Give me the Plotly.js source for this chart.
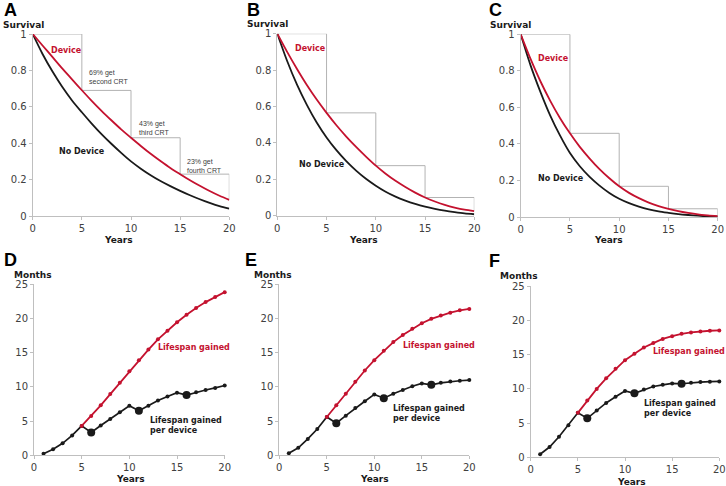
<!DOCTYPE html>
<html>
<head>
<meta charset="utf-8">
<script src="https://cdn.plot.ly/plotly-3.0.1.min.js"></script>
<style>html,body{margin:0;padding:0;background:#fff;}#chart{width:726px;height:486px;}</style>
</head>
<body>
<div id="chart"></div>
<script>
// ---------- DATA ----------
const years = [0,1,2,3,4,5,6,7,8,9,10,11,12,13,14,15,16,17,18,19,20];
const A_device = [1,.937,.874,.811,.751,.691,.633,.578,.526,.476,.43,.385,.342,.302,.264,.23,.197,.166,.137,.111,.089];
const A_none   = [1,.89,.795,.71,.635,.57,.508,.45,.397,.347,.30,.26,.224,.192,.164,.138,.114,.092,.072,.054,.04];
const B_device = [1,.9,.806,.718,.638,.565,.497,.435,.378,.325,.275,.231,.192,.158,.127,.10,.078,.06,.045,.033,.025];
const B_none   = [1,.85,.72,.609,.512,.43,.36,.30,.248,.203,.165,.132,.105,.083,.065,.05,.038,.028,.02,.013,.008];
const C_device = [1,.865,.743,.636,.541,.458,.384,.32,.262,.212,.168,.132,.103,.079,.06,.045,.032,.022,.014,.009,.005];
const C_none   = [1,.83,.685,.555,.445,.35,.278,.22,.172,.132,.10,.076,.057,.042,.031,.023,.016,.011,.007,.004,.002];

const stepYears = [0,5,10,15,20];
const A_steps = [1,0.69,0.43,0.23,0.089];
const B_steps = [1,0.565,0.275,0.10,0.025];
const C_steps = [1,0.458,0.168,0.045,0.005];
const A_stepLabels = ['69% get<br>second CRT','43% get<br>third CRT','23% get<br>fourth CRT'];

const monthYears = [1,2,3,4,5,6,7,8,9,10,11,12,13,14,15,16,17,18,19,20];
const gainedYears = [5,6,7,8,9,10,11,12,13,14,15,16,17,18,19,20];
const bigMarkerYears = [6,11,16];
const D_perDevice = [0.24,0.88,1.75,2.9,4.3,3.35,4.35,5.3,6.3,7.25,6.5,7.25,8.0,8.6,9.15,8.8,9.2,9.55,9.85,10.2];
const D_gained = [4.3,5.75,7.3,8.95,10.6,12.3,13.9,15.45,16.95,18.2,19.45,20.55,21.55,22.4,23.15,23.85];
const E_perDevice = [0.3,1.1,2.4,3.85,5.6,4.7,5.8,6.9,7.9,8.9,8.35,9.0,9.55,10.1,10.5,10.3,10.6,10.8,10.9,11.0];
const E_gained = [5.6,7.3,9.0,10.75,12.4,13.9,15.3,16.55,17.6,18.5,19.3,19.95,20.45,20.85,21.2,21.4];
const F_perDevice = [0.45,1.5,3.0,4.7,6.5,5.7,6.85,7.95,8.85,9.7,9.35,9.9,10.35,10.6,10.8,10.75,10.9,11.0,11.05,11.1];
const F_gained = [6.5,8.3,10.0,11.55,12.95,14.2,15.15,16.05,16.7,17.3,17.7,18.05,18.25,18.4,18.5,18.55];

const survTicks = [0,0.2,0.4,0.6,0.8,1];
const survTickText = ['0','0.2','0.4','0.6','0.8','1'];
const monthTicks = [0,5,10,15,20,25];
const yearTicks = [0,5,10,15,20];

// ---------- STYLE ----------
const RED = '#c4122f';
const BLK = '#1a1a1a';
const GREY = '#b3b3b3';
const AX = '#bfbfbf';
const W = 726, H = 486;
const px = x => x / W;
const py = y => 1 - y / H;

const traces = [];
function surv(n, dev, none, steps) {
  const xa = 'x' + (n === 1 ? '' : n), ya = 'y' + (n === 1 ? '' : n);
  traces.push({x: stepYears, y: steps, xaxis: xa, yaxis: ya, mode: 'lines', line: {color: GREY, width: 1, shape: 'hv'}, cliponaxis: false});
  traces.push({x: years, y: none, xaxis: xa, yaxis: ya, mode: 'lines', line: {color: BLK, width: 1.8, shape: 'spline', smoothing: 0.8}, cliponaxis: false});
  traces.push({x: years, y: dev, xaxis: xa, yaxis: ya, mode: 'lines', line: {color: RED, width: 1.8, shape: 'spline', smoothing: 0.8}, cliponaxis: false});
}
function months(n, per, gained) {
  const xa = 'x' + n, ya = 'y' + n;
  const sizes = monthYears.map(y => bigMarkerYears.includes(y) ? 8 : 4);
  traces.push({x: monthYears, y: per, xaxis: xa, yaxis: ya, mode: 'lines+markers', line: {color: BLK, width: 1.7},
    marker: {color: BLK, size: sizes, opacity: 1, line: {width: 0}}, cliponaxis: false});
  traces.push({x: gainedYears, y: gained, xaxis: xa, yaxis: ya, mode: 'lines+markers', line: {color: RED, width: 1.8},
    marker: {color: RED, size: 4, opacity: 1, line: {width: 0}}, cliponaxis: false});
}
surv(1, A_device, A_none, A_steps);
surv(2, B_device, B_none, B_steps);
surv(3, C_device, C_none, C_steps);
months(4, D_perDevice, D_gained);
months(5, E_perDevice, E_gained);
months(6, F_perDevice, F_gained);

const tickfont = {family: 'DejaVu Sans', size: 10, color: '#404040'};
function xax(l, r, anchor) {
  return {domain: [px(l), px(r)], anchor: anchor, range: [0, 20], tickvals: yearTicks, showline: true, linecolor: AX, linewidth: 1,
    ticks: 'outside', ticklen: 3, tickcolor: AX, showgrid: false, zeroline: false, tickfont: tickfont, fixedrange: true};
}
function yax(top, bot, anchor, surv) {
  const o = {domain: [py(bot), py(top)], anchor: anchor, showline: true, linecolor: AX, linewidth: 1,
    ticks: 'outside', ticklen: 3, tickcolor: AX, showgrid: false, zeroline: false, tickfont: tickfont, fixedrange: true};
  if (surv) { o.range = [0, 1]; o.tickvals = survTicks; o.ticktext = survTickText; }
  else { o.range = [0, 25]; o.tickvals = monthTicks; }
  return o;
}

const ann = [];
function txt(x, y, text, size, color, xanchor, bold, family) {
  ann.push({xref: 'paper', yref: 'paper', x: px(x), y: py(y), text: bold ? '<b>' + text + '</b>' : text, showarrow: false,
    xanchor: xanchor || 'left', yanchor: 'middle', font: {family: family || 'DejaVu Sans', size: size, color: color || '#1a1a1a'}});
}
function dtxt(n, x, y, text, size, color, family, bold) {
  ann.push({xref: 'x' + (n === 1 ? '' : n), yref: 'y' + (n === 1 ? '' : n), x: x, y: y, text: bold === false ? text : '<b>' + text + '</b>', showarrow: false,
    xanchor: 'left', yanchor: 'middle', align: 'left', font: {family: family || 'DejaVu Sans', size: size, color: color}});
}
// panel letters
[['A',2,10],['B',245,10],['C',487,10],['D',2,260],['E',243,260],['F',487,261]].forEach(d => txt(d[1], d[2], d[0], 18, '#000', 'left', true, 'Liberation Sans'));
// axis titles
[[1,25],[245,24],[488,25]].forEach(d => txt(d[0], d[1], 'Survival', 9, '#1a1a1a', 'left', true));
[[12,275],[252,275],[498,275.5]].forEach(d => txt(d[0], d[1], 'Months', 9, '#1a1a1a', 'left', true));
[[118,239.5],[364,239.5],[608,239.5],[130,479],[375,479],[631,482]].forEach(d => txt(d[0], d[1], 'Years', 9, '#1a1a1a', 'center', true));
// in-plot labels
dtxt(1, 1.66, 0.912, 'Device', 8, RED);
dtxt(1, 2.47, 0.352, 'No Device', 8, BLK);
dtxt(1, 5.5, 0.766, A_stepLabels[0], 7, '#404040', 'Liberation Sans', false);
dtxt(1, 10.6, 0.484, A_stepLabels[1], 7, '#404040', 'Liberation Sans', false);
dtxt(1, 15.5, 0.277, A_stepLabels[2], 7, '#404040', 'Liberation Sans', false);
dtxt(2, 1.6, 0.916, 'Device', 8, RED);
dtxt(2, 2.0, 0.284, 'No Device', 8, BLK);
dtxt(3, 1.55, 0.865, 'Device', 8, RED);
dtxt(3, 1.55, 0.213, 'No Device', 8, BLK);
dtxt(4, 12.8, 15.7, 'Lifespan gained', 8, RED);
dtxt(4, 11.96, 4.43, 'Lifespan gained<br>per device', 8, BLK);
dtxt(5, 12.8, 16.1, 'Lifespan gained', 8, RED);
dtxt(5, 11.76, 6.04, 'Lifespan gained<br>per device', 8, BLK);
dtxt(6, 12.76, 15.54, 'Lifespan gained', 8, RED);
dtxt(6, 11.8, 7.2, 'Lifespan gained<br>per device', 8, BLK);

const layout = {
  width: W, height: H, margin: {l: 0, r: 0, t: 0, b: 0}, paper_bgcolor: '#fff', plot_bgcolor: '#fff', showlegend: false,
  xaxis: xax(32.7, 229.3, 'y'), yaxis: yax(34, 216, 'x', true),
  xaxis2: xax(277.3, 474.3, 'y2'), yaxis2: yax(33.7, 215.7, 'x2', true),
  xaxis3: xax(520.7, 717.7, 'y3'), yaxis3: yax(34.3, 217, 'x3', true),
  xaxis4: xax(34, 224.7, 'y4'), yaxis4: yax(284.3, 455.3, 'x4', false),
  xaxis5: xax(279.3, 469.3, 'y5'), yaxis5: yax(284.3, 455.3, 'x5', false),
  xaxis6: xax(530.7, 719.3, 'y6'), yaxis6: yax(286.3, 457.3, 'x6', false),
  annotations: ann
};
Plotly.newPlot('chart', traces, layout, {staticPlot: true, displayModeBar: false});
</script>
</body>
</html>
